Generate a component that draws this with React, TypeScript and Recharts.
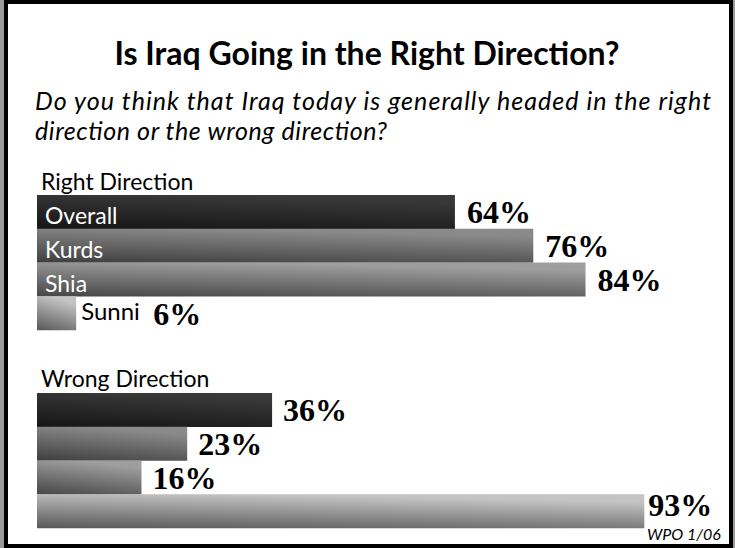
import { BarChart, Bar, XAxis, YAxis, Cell, LabelList } from "recharts";

// survey groups, top to bottom in each block
const groups = ["Overall", "Kurds", "Shia", "Sunni"];
const rightDirection = [64, 76, 84, 6];
const wrongDirection = [36, 23, 16, 93];

const title = "Is Iraq Going in the Right Direction?";
const questionLines = [
  "Do you think that Iraq today is generally headed in the right",
  "direction or the wrong direction?",
];
const source = "WPO 1/06";

// dark -> light, one pair per group row
const shades = [
  ["#151515", "#383838"],
  ["#3e3e3e", "#8a8a8a"],
  ["#464646", "#9e9e9e"],
  ["#585858", "#c4c4c4"],
];

const SANS = "Lato, 'Open Sans', sans-serif";
const SERIF = "'Liberation Serif', 'DejaVu Serif', serif";

const rightData = groups.map((group, i) => ({ group, value: rightDirection[i] }));
const wrongData = groups.map((group, i) => ({ group, value: wrongDirection[i] }));

function Gradients({ prefix }: { prefix: string }) {
  return (
    <defs>
      {shades.map(([from, to], i) => (
        <linearGradient key={i} id={`${prefix}${i}`} x1="0" y1="1" x2="0.35" y2="0">
          <stop offset="0%" stopColor={from} />
          <stop offset="100%" stopColor={to} />
        </linearGradient>
      ))}
    </defs>
  );
}

const pctStyle = { fontFamily: SERIF, fontWeight: 700, fontSize: 32, fill: "#000" };

function RightLabel(props: any) {
  const { x, y, width, height, value, index } = props;
  const end = x + width;
  if (index < 3) {
    return (
      <g>
        <text x={x + 8} y={y + height - 5} fontFamily={SANS} fontSize={23} fill="#fff">
          {groups[index]}
        </text>
        <text x={end + 12} y={y + height / 2 + 11} style={pctStyle}>
          {value}%
        </text>
      </g>
    );
  }
  return (
    <g>
      <text x={end + 5} y={y + height - 10} fontFamily={SANS} fontSize={24} fill="#000">
        {groups[index]}
      </text>
      <text x={end + 77} y={y + height / 2 + 12} style={pctStyle}>
        {value}%
      </text>
    </g>
  );
}

function WrongLabel(props: any) {
  const { x, y, width, height, value, index } = props;
  const last = index === groups.length - 1;
  return (
    <text
      x={x + width + (last ? 4 : 11)}
      y={last ? y + 22 : y + height / 2 + 11}
      style={pctStyle}
    >
      {value}%
    </text>
  );
}

function Block({ data, prefix, label }: { data: any[]; prefix: string; label: any }) {
  return (
    <BarChart
      layout="vertical"
      width={698}
      height={150}
      data={data}
      margin={{ top: 0, right: 45, bottom: 15, left: 0 }}
      barCategoryGap={0}
    >
      <Gradients prefix={prefix} />
      <XAxis type="number" domain={[0, 100]} hide />
      <YAxis type="category" dataKey="group" hide />
      <Bar dataKey="value" isAnimationActive={false}>
        {data.map((_, i) => (
          <Cell key={i} fill={`url(#${prefix}${i})`} />
        ))}
        <LabelList dataKey="value" content={label} />
      </Bar>
    </BarChart>
  );
}

export default function App() {
  return (
    <div style={{ position: "absolute", left: 0, top: 0, width: 735, height: 548, background: "#fff" }}>
      {/* scanned frame */}
      <div style={{ position: "absolute", left: 0, top: 0, width: 4, height: 548, background: "#9a9a9a" }} />
      <div style={{ position: "absolute", left: 733, top: 0, width: 2, height: 548, background: "#9a9a9a" }} />
      <div
        style={{
          position: "absolute",
          left: 4,
          top: 0,
          width: 729,
          height: 548,
          border: "4px solid #000",
          boxSizing: "border-box",
        }}
      />
      <svg width={735} height={548} style={{ position: "absolute", left: 0, top: 0 }}>
        <text x={367} y={65} textAnchor="middle" fontFamily={SANS} fontWeight={700} fontSize={32} fill="#000">
          {title}
        </text>
        <text x={35} y={110} fontFamily={SANS} fontStyle="italic" fontSize={25} fill="#000"
          textLength={676} lengthAdjust="spacing">
          {questionLines[0]}
        </text>
        <text x={35} y={140} fontFamily={SANS} fontStyle="italic" fontSize={25} fill="#000"
          textLength={352} lengthAdjust="spacing">
          {questionLines[1]}
        </text>
        <text x={41} y={190} fontFamily={SANS} fontSize={23} fill="#000">
          Right Direction
        </text>
        <text x={41} y={387} fontFamily={SANS} fontSize={23} fill="#000">
          Wrong Direction
        </text>
        <text x={647} y={540} fontFamily={SANS} fontStyle="italic" fontSize={16} fill="#000">
          {source}
        </text>
      </svg>
      <div style={{ position: "absolute", left: 37, top: 195 }}>
        <Block data={rightData} prefix="rd" label={RightLabel} />
      </div>
      <div style={{ position: "absolute", left: 37, top: 393 }}>
        <Block data={wrongData} prefix="wd" label={WrongLabel} />
      </div>
    </div>
  );
}
